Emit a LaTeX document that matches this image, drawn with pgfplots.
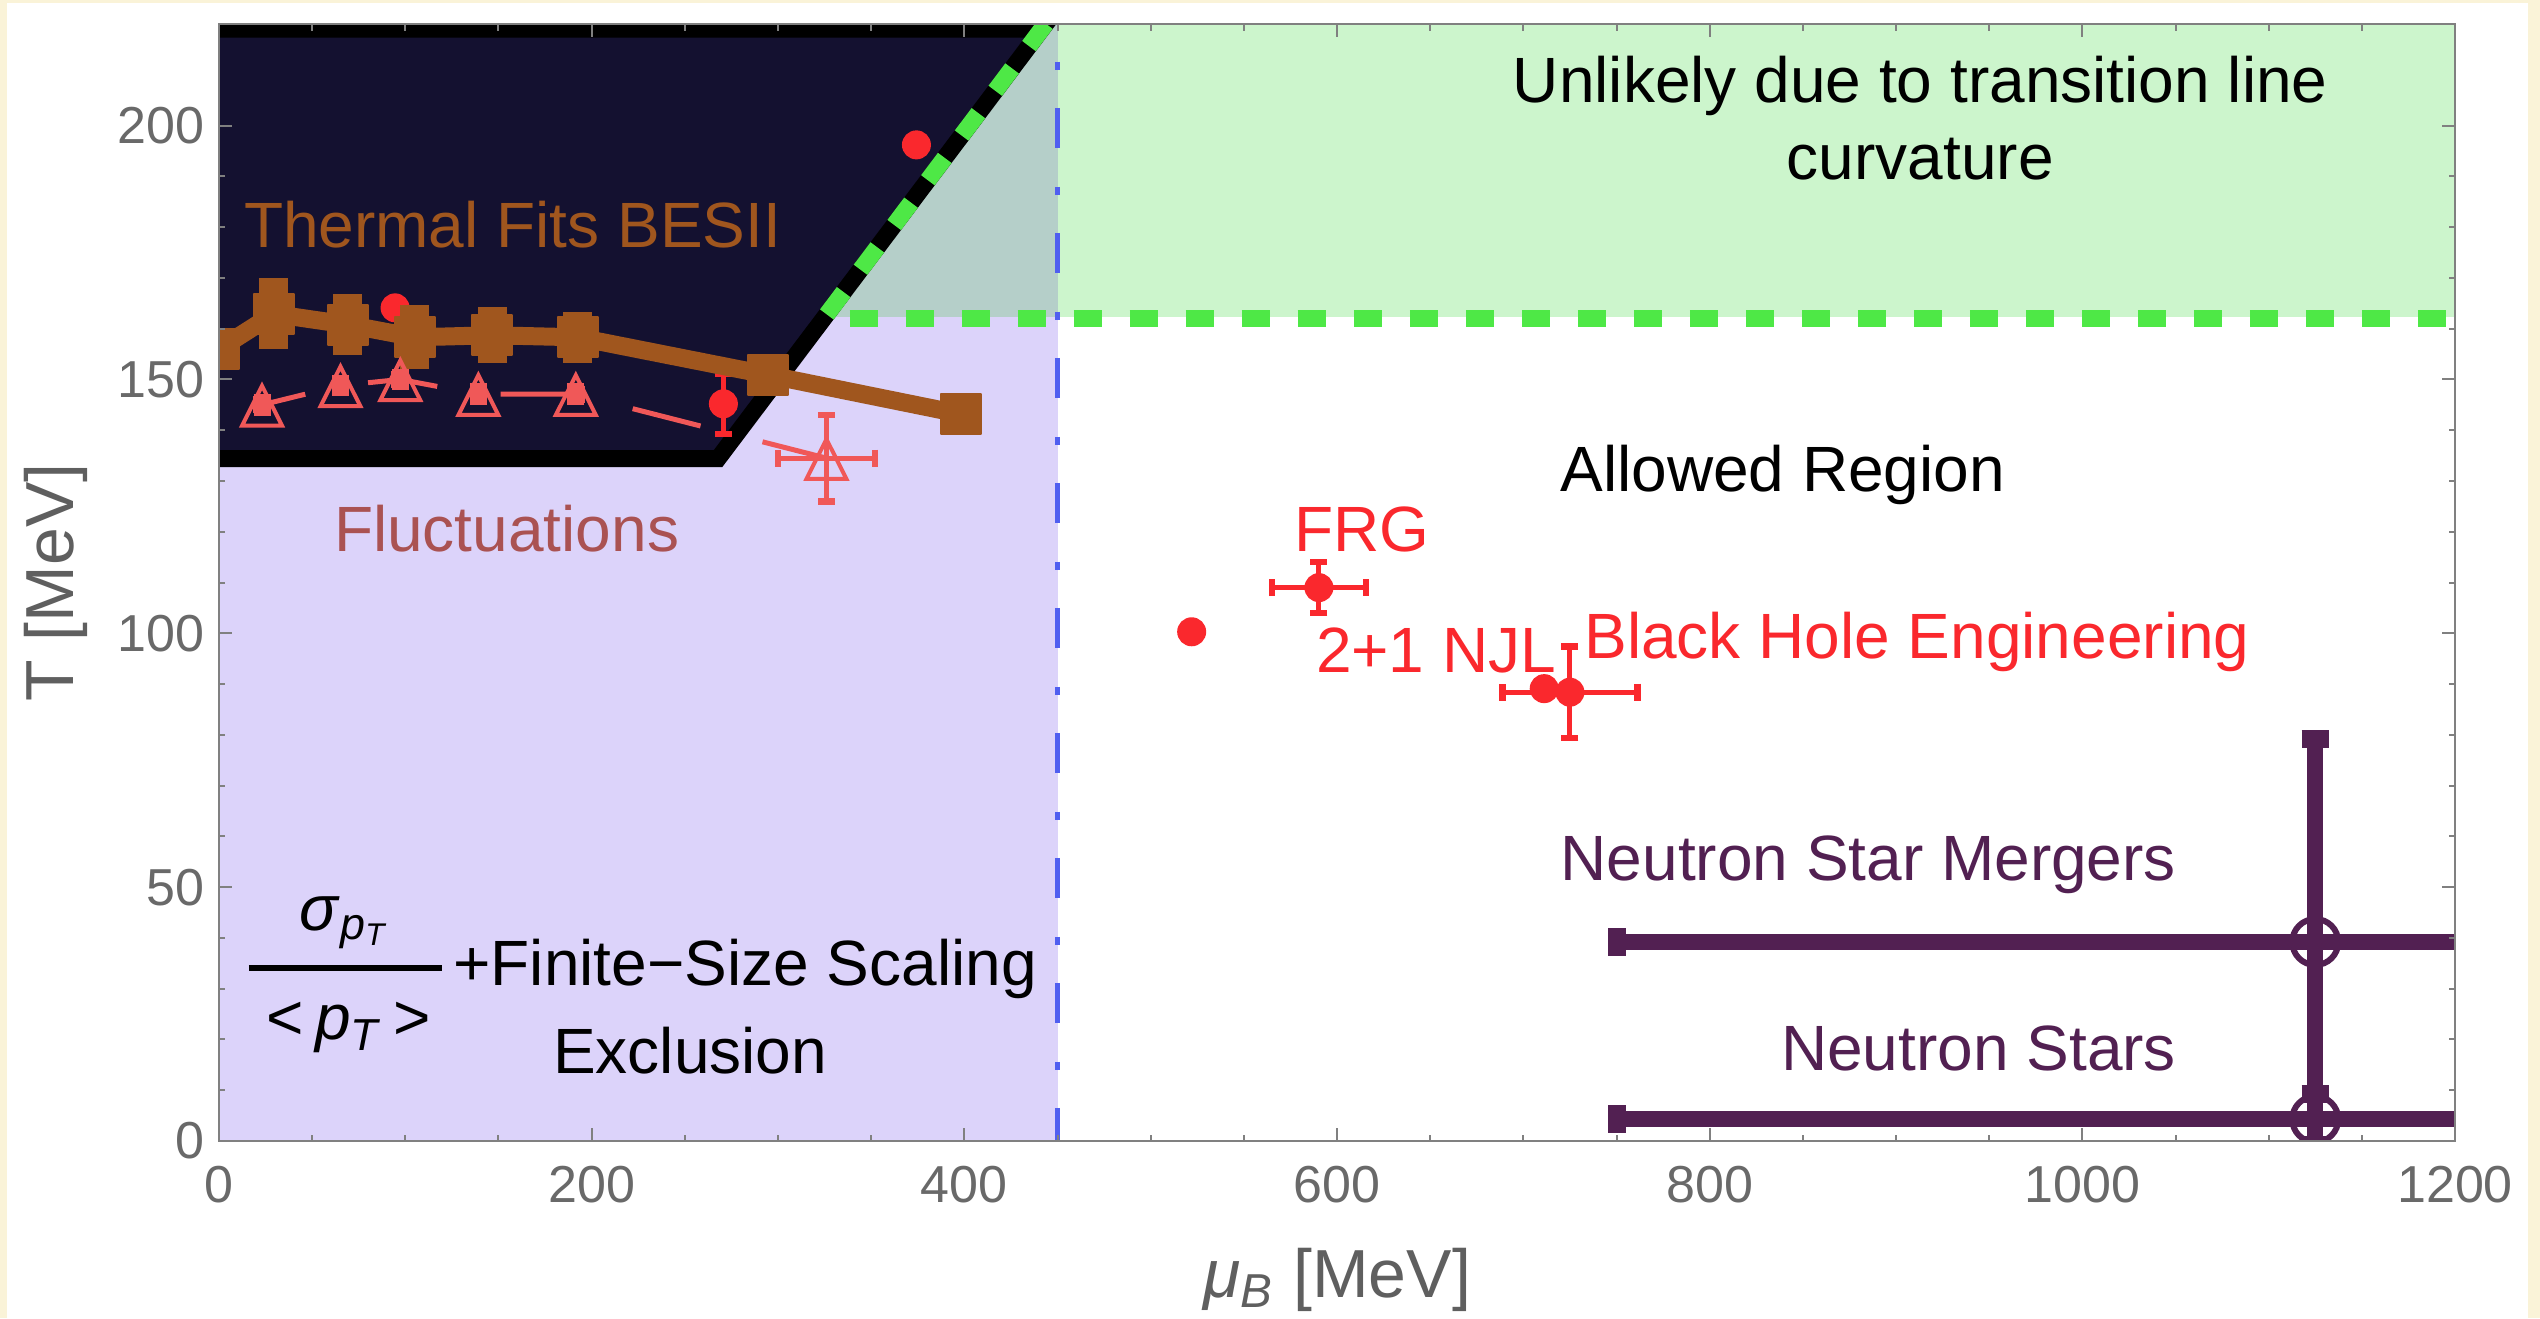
\documentclass[border=0pt]{standalone}
\usepackage{fontspec}
\setmainfont{Liberation Sans}
\usepackage{pgfplots}
\pgfplotsset{compat=1.18}
\definecolor{cream}{RGB}{250,243,216}
\definecolor{lav}{RGB}{220,211,250}
\definecolor{mixcol}{RGB}{181,207,201}
\definecolor{lgreen}{RGB}{204,245,204}
\definecolor{navy}{RGB}{20,17,48}
\definecolor{dgreen}{RGB}{78,232,70}
\definecolor{bline}{RGB}{80,95,240}
\definecolor{brn}{RGB}{160,86,30}
\definecolor{flc}{RGB}{240,88,88}
\definecolor{flt}{RGB}{170,82,82}
\definecolor{rpt}{RGB}{250,40,45}
\definecolor{nsc}{RGB}{82,32,82}
\definecolor{tickgray}{RGB}{105,105,105}
\definecolor{labgray}{RGB}{95,95,95}
\newcommand{\lbl}{\fontsize{12.8pt}{15pt}\selectfont}
\begin{document}
\begin{tikzpicture}
\path[use as bounding box, fill=cream] (-43.8pt,-35.4pt) rectangle (464.2pt,228.2pt);
\fill[white] (-42.4pt,-35.4pt) rectangle (461.8pt,227.6pt);
\begin{axis}[
  at={(0,0)}, anchor=south west,
  scale only axis, width=447.2pt, height=223.4pt,
  xmin=0, xmax=1200, ymin=0, ymax=220,
  axis on top,
  clip marker paths=true,
  axis line style={draw=gray, line width=0.4pt},
  xtick={0,200,...,1200}, minor x tick num=3,
  ytick={0,50,...,200}, minor y tick num=4,
  tick align=inside,
  major tick length=2.6pt, minor tick length=1.3pt,
  every tick/.append style={gray, line width=0.4pt},
  tick label style={font=\fontsize{10.4pt}{12pt}\selectfont, text=tickgray},
  /pgf/number format/assume math mode=true,
  /pgf/number format/1000 sep={},
  xticklabel style={anchor=north, inner sep=0pt, yshift=-4.8pt},
  yticklabel style={anchor=east, inner sep=0pt, xshift=-2.8pt},
  xlabel={\textit{μ}\textsubscript{\textit{B}} [MeV]},
  ylabel={T [MeV]},
  label style={font=\fontsize{13.6pt}{16pt}\selectfont, text=labgray},
  xlabel style={at={([yshift=-31.2pt]axis description cs:0.5,0)}, anchor=base, inner sep=0pt},
  ylabel style={at={([xshift=-29.06pt]axis description cs:0,0.5)}, anchor=base, inner sep=0pt},
]
% regions
\addplot[draw=none, fill=lav] coordinates {(0,0) (450,0) (450,162.3) (0,162.3)} -- cycle;
\addplot[draw=none, fill=mixcol] coordinates {(0,162.3) (450,162.3) (450,220) (0,220)} -- cycle;
\addplot[draw=none, fill=lgreen] coordinates {(450,162.3) (1200,162.3) (1200,220) (450,220)} -- cycle;
\addplot[fill=navy, draw=black, line width=3.4pt] coordinates {(-30,134.4) (267.8,134.4) (441.6,219) (-30,219)} -- cycle;
% green dashed boundaries
\addplot[dgreen, line width=3.4pt, dash pattern=on 5.6pt off 5.6pt] coordinates {(326.2,162.8) (452,224.1)};
\addplot[dgreen, line width=3.4pt, dash pattern=on 5.7pt off 5.5pt] coordinates {(338.5,162.1) (1200,162.1)};
% blue dash-dot
\addplot[bline, line width=1pt, dash pattern=on 8pt off 7.7pt on 1.6pt off 7.7pt] coordinates {(450,228) (450,0)};
% red points
\addplot[only marks, mark=*, mark size=2.7pt, color=rpt] coordinates {(94.5,164.1) (374.3,196.2) (522,100.3) (711.2,89.1)};
\addplot[only marks, mark=*, mark size=2.7pt, color=rpt,
  error bars/.cd, y dir=both, y explicit,
  error bar style={line width=1pt}, error mark options={rotate=90, mark size=1.7pt, line width=1.3pt}]
  coordinates {(270.7,145.2) +- (0,5.9)};
\addplot[only marks, mark=*, mark size=2.7pt, color=rpt,
  error bars/.cd, x dir=both, x explicit, y dir=both, y explicit,
  error bar style={line width=1pt}, error mark options={rotate=90, mark size=1.7pt, line width=1.3pt}]
  coordinates {(590.3,109) +- (25.3,5) (725,88.4) +- (36.3,9)};
% thermal fits
\addplot[brn, line width=3.6pt, line join=round, mark=square*, mark size=4pt, mark options={solid, line width=0.4pt},
  error bars/.cd, y dir=both, y explicit, error bar style={line width=5.8pt}, error mark=none]
  coordinates {(0,156) +- (0,4) (29.5,162.9) +- (0,7) (69,160.8) +- (0,6) (105,158.3) +- (0,6.3)
  (146.6,158.7) +- (0,5.5) (192.6,158.3) +- (0,5) (294.5,150.9) +- (0,3) (398,143.2) +- (0,3.5)};
% fluctuations
\addplot[flc, line width=1pt, dash pattern=on 14pt off 12.8pt, dash phase=5.1pt, mark=triangle, mark size=4.6pt,
  mark options={solid, line width=0.8pt, yscale=1.15, yshift=-1.3pt},
  error bars/.cd, x dir=both, x explicit, y dir=both, y explicit,
  error bar style={solid, line width=1pt}, error mark options={rotate=90, mark size=1.7pt, line width=1.3pt}]
  coordinates {(23.1,145) +- (3,1.5) (65.2,148.8) +- (3,1.5) (97.3,150) +- (3,1.5) (139.2,147.1) +- (3,1.5)
  (191.5,147.1) +- (3,1.5) (326,134.5) +- (26,8.5)};
% neutron stars
\addplot[nsc, only marks, mark=o, mark size=4.6pt, mark options={line width=1.2pt},
  error bars/.cd, x dir=both, x explicit, y dir=both, y explicit,
  error bar style={line width=3.2pt}, error mark options={rotate=90, mark size=2.75pt, line width=3.6pt}]
  coordinates {(1125,39.2) +- (375,40) (1125,4.3) +- (375,5)};
% labels
\node[anchor=base west, inner sep=0pt, text=brn, font=\lbl] at (axis cs:12.9,175.9) {Thermal Fits BESII};
\node[anchor=base west, inner sep=0pt, text=flt, font=\lbl] at (axis cs:61.2,116.2) {Fluctuations};
\node[anchor=base, inner sep=0pt, font=\lbl] at (axis cs:913,204.6) {Unlikely due to transition line};
\node[anchor=base, inner sep=0pt, font=\lbl] at (axis cs:913,189.4) {curvature};
\node[anchor=base, inner sep=0pt, font=\lbl] at (axis cs:839.2,128) {Allowed Region};
\node[anchor=base west, inner sep=0pt, text=rpt, font=\lbl] at (axis cs:576.4,116.2) {FRG};
\node[anchor=base west, inner sep=0pt, text=rpt, font=\lbl] at (axis cs:588.2,92.3) {2+1 NJL};
\node[anchor=base west, inner sep=0pt, text=rpt, font=\lbl] at (axis cs:732.2,95.1) {Black Hole Engineering};
\node[anchor=base east, inner sep=0pt, text=nsc, font=\lbl] at (axis cs:1050.8,51.3) {Neutron Star Mergers};
\node[anchor=base east, inner sep=0pt, text=nsc, font=\lbl] at (axis cs:1050.8,13.8) {Neutron Stars};
\node[anchor=base, inner sep=0pt, font=\lbl] at (axis cs:67.9,41.5) {\textit{σ}\textsubscript{\textit{p}\textsubscript{\textit{T}}}};
\draw[line width=1.2pt] (axis cs:16.1,34) -- (axis cs:119.7,34);
\node[anchor=base, inner sep=0pt, font=\lbl] at (axis cs:69.8,19.9) {<\,\textit{p}\textsubscript{\textit{T}}\,>};
\node[anchor=base west, inner sep=0pt, font=\lbl] at (axis cs:125.3,30.7) {+Finite−Size Scaling};
\node[anchor=base, inner sep=0pt, font=\lbl] at (axis cs:252.9,13.3) {Exclusion};
\end{axis}
\end{tikzpicture}
\end{document}
